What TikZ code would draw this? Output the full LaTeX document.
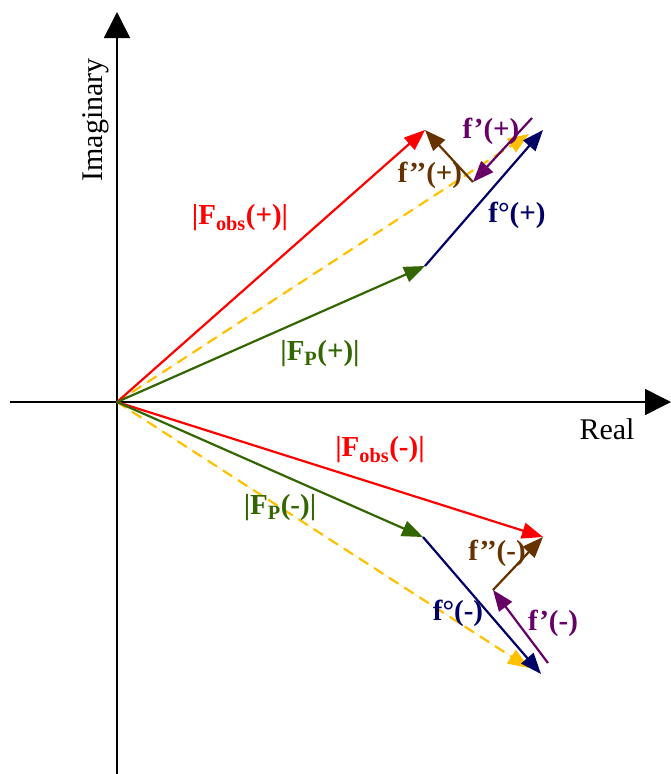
\documentclass[tikz,border=0pt]{standalone}
\usepackage{fontspec}
\setmainfont{Liberation Serif}
\usetikzlibrary{arrows.meta}
\definecolor{ObsRed}{RGB}{255,0,0}
\definecolor{PGreen}{RGB}{51,102,0}
\definecolor{NoughtBlue}{RGB}{0,0,102}
\definecolor{SumYellow}{RGB}{255,192,0}
\definecolor{PrimePurple}{RGB}{102,0,102}
\definecolor{DPrimeBrown}{RGB}{102,51,0}
\tikzset{
  axis/.style={-{Triangle[length=26pt, width=26pt]}, draw=black, line width=1.6pt},
  vec/.style={-{Triangle[length=21pt, width=16pt]}, line width=2.2pt},
  sumvec/.style={vec, draw=SumYellow, fill=SumYellow, dash pattern=on 11pt off 7pt},
  lbl/.style={font=\fontsize{29}{30}\selectfont\bfseries, inner sep=0pt},
  axlbl/.style={font=\fontsize{30}{31}\selectfont, inner sep=0pt},
}

\begin{document}
\begin{tikzpicture}[x=1pt, y=-1pt]
  \useasboundingbox (0,0) rectangle (671,774);
  % axes
  \coordinate (xl) at (10,402); \coordinate (xr) at (671,402);
  \coordinate (yb) at (117,774); \coordinate (yt) at (117,12);
  \draw[axis] (xl) -- (xr);
  \draw[axis] (yb) -- (yt);
  \node[axlbl, rotate=90] (imlab) at (96,120) {Imaginary};
  \node[axlbl] (relab) at (607,429) {Real};
  % upper set (+)
  \coordinate (O) at (117,402);
  \coordinate (Fop) at (425,130); \coordinate (Fpp) at (425,266);
  \coordinate (Hp) at (543,130); \coordinate (Yp) at (529,134);
  \coordinate (Ap) at (532,118); \coordinate (Bp) at (473,182);
  \draw[sumvec] (O) -- (Yp);
  \draw[vec, draw=ObsRed, fill=ObsRed] (O) -- (Fop);
  \draw[vec, draw=PGreen, fill=PGreen] (O) -- (Fpp);
  \draw[vec, draw=NoughtBlue, fill=NoughtBlue] (Fpp) -- (Hp);
  \draw[vec, draw=PrimePurple, fill=PrimePurple] (Ap) -- (Bp);
  \draw[vec, draw=DPrimeBrown, fill=DPrimeBrown] (Bp) -- (Fop);
  % lower set (-)
  \coordinate (Fom) at (543,537); \coordinate (Fpm) at (423,537);
  \coordinate (Hm) at (541,674); \coordinate (Ym) at (529,668);
  \coordinate (Am) at (548,663); \coordinate (Bm) at (493,590);
  \draw[sumvec] (O) -- (Ym);
  \draw[vec, draw=ObsRed, fill=ObsRed] (O) -- (Fom);
  \draw[vec, draw=PGreen, fill=PGreen] (O) -- (Fpm);
  \draw[vec, draw=NoughtBlue, fill=NoughtBlue] (Fpm) -- (Hm);
  \draw[vec, draw=PrimePurple, fill=PrimePurple] (Am) -- (Bm);
  \draw[vec, draw=DPrimeBrown, fill=DPrimeBrown] (Bm) -- (Fom);
  % labels
  \node[lbl, text=ObsRed] (lobsp) at (240,218) {|F\textsubscript{obs}(+)|};
  \node[lbl, text=PGreen] (lpp) at (320,354) {|F\textsubscript{P}(+)|};
  \node[lbl, text=PrimePurple] (l1p) at (491,131) {f’(+)};
  \node[lbl, text=DPrimeBrown] (l2p) at (430,175) {f’’(+)};
  \node[lbl, text=NoughtBlue] (l0p) at (517,215) {f°(+)};
  \node[lbl, text=ObsRed] (lobsm) at (380,450) {|F\textsubscript{obs}(-)|};
  \node[lbl, text=PGreen] (lpm) at (280,508) {|F\textsubscript{P}(-)|};
  \node[lbl, text=DPrimeBrown] (l2m) at (497,553) {f’’(-)};
  \node[lbl, text=NoughtBlue] (l0m) at (458,613) {f°(-)};
  \node[lbl, text=PrimePurple] (l1m) at (553,623) {f’(-)};
\end{tikzpicture}
\end{document}
